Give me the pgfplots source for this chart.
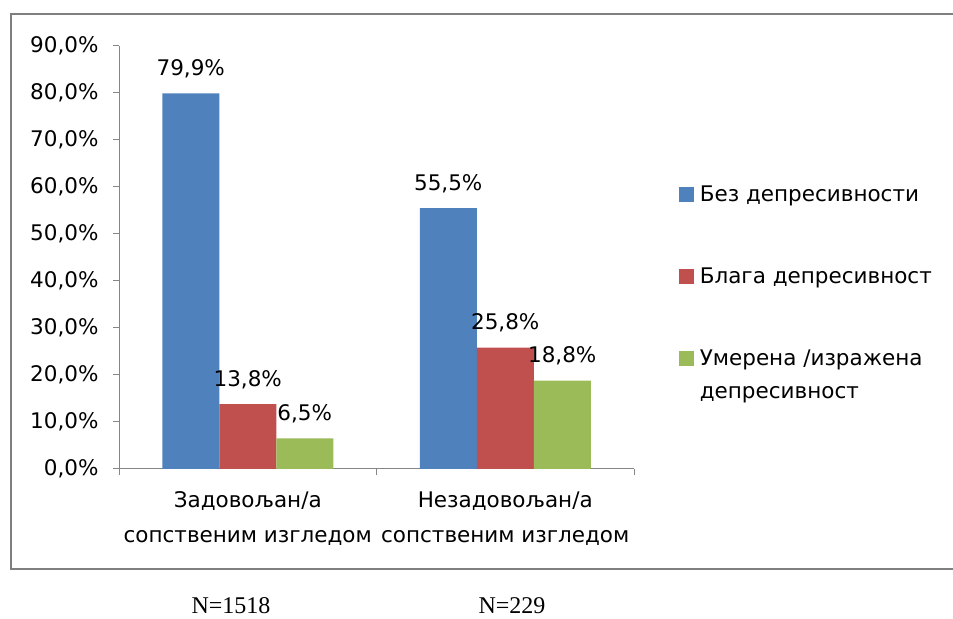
\documentclass[border=0pt]{standalone}
\usepackage{fontspec}
\setmainfont{DejaVu Sans}
\newfontfamily\timesfont{Liberation Serif}
\usepackage{pgfplots}
\pgfplotsset{compat=1.18}
\pgfkeys{/pgf/number format/assume math mode=true}

\definecolor{barblue}{HTML}{4F81BD}
\definecolor{barred}{HTML}{C0504D}
\definecolor{bargreen}{HTML}{9BBB59}
\definecolor{axisgray}{HTML}{868686}
\definecolor{framegray}{HTML}{7F7F7F}

\newcommand{\lblfont}{\fontsize{21.5bp}{35bp}\selectfont}

\begin{document}
\begin{tikzpicture}[x=1bp,y=1bp]
\path[use as bounding box] (0,0) rectangle (953,619);
% outer chart frame (open to the right)
\draw[framegray, line width=2.2bp] (953,605) -- (11,605) -- (11,50) -- (953,50);

\begin{axis}[
    at={(119bp,150bp)}, anchor=south west,
    width=515bp, height=423bp, scale only axis,
    ybar=0pt, bar width=57bp,
    legend image code/.code={\fill[#1] (0bp,0bp) rectangle (15bp,15bp);},
    xmin=-0.5, xmax=1.5, ymin=0, ymax=90,
    axis lines=left,
    axis line style={-, axisgray, line width=1bp},
    tick style={axisgray, line width=1bp},
    tick align=outside,
    major tick length=6bp,
    ytick={0,10,...,90},
    yticklabel={\pgfmathprintnumber[fixed,fixed zerofill,precision=1,use comma]{\tick}\%},
    yticklabel style={xshift=-11bp},
    xtick={-0.5,0.5,1.5},
    xticklabels={},
    extra x ticks={0,1},
    extra x tick labels={Задовољан/а\\сопственим изгледом, Незадовољан/а\\сопственим изгледом},
    extra x tick style={major tick length=0pt, tick label style={align=center, yshift=-19bp}},
    tick label style={font=\lblfont, black},
    nodes near coords={\pgfmathprintnumber[fixed,fixed zerofill,precision=1,use comma]{\pgfplotspointmeta}\%},
    every node near coord/.append style={font=\lblfont, black, anchor=base, yshift=18bp},
    clip=false,
    legend style={at={(1.087,0.670)}, anchor=north west, draw=none, fill=none,
      inner sep=0pt, outer sep=0pt, row sep=61bp, column sep=6bp,
      font=\fontsize{21.5bp}{33bp}\selectfont,
      nodes={text height=16bp, text depth=5bp, inner sep=0pt, anchor=base west}},
  ]
  \addplot[fill=barblue, draw=none] coordinates {(0,79.9) (1,55.5)};
  \addlegendentry{Без депресивности}
  \addplot[fill=barred, draw=none] coordinates {(0,13.8) (1,25.8)};
  \addlegendentry{Блага депресивност}
  \addplot[fill=bargreen, draw=none] coordinates {(0,6.5) (1,18.8)};
  \addlegendentry{\begin{tabular}[t]{@{}l@{}}Умерена /изражена\\депресивност\end{tabular}}
\end{axis}

\node[font=\timesfont\fontsize{24bp}{28bp}\selectfont, anchor=base] at (231,5) {N=1518};
\node[font=\timesfont\fontsize{24bp}{28bp}\selectfont, anchor=base] at (512,5) {N=229};
\end{tikzpicture}
\end{document}
